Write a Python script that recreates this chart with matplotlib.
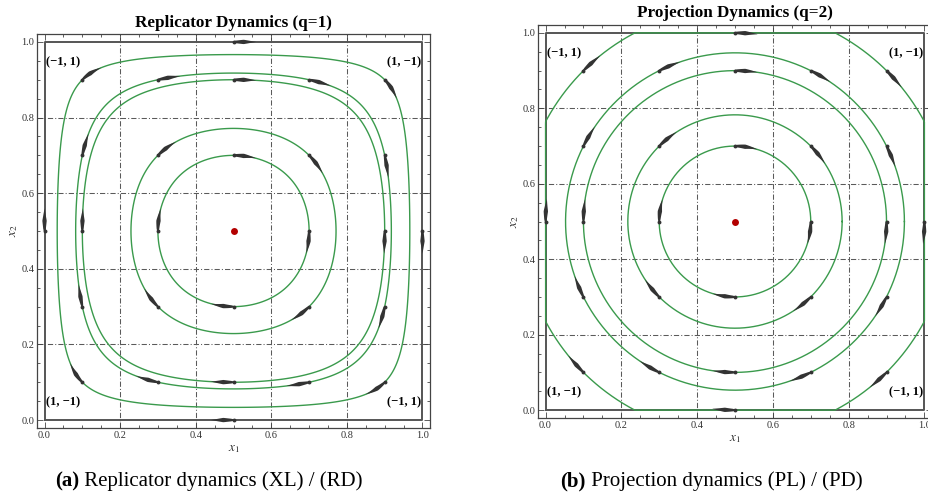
import numpy as np
import matplotlib
matplotlib.use("Agg")
import matplotlib.pyplot as plt
from matplotlib.ticker import MultipleLocator

plt.rcParams['font.family'] = ['Liberation Serif', 'DejaVu Serif']
plt.rcParams['mathtext.fontset'] = 'stix'

# stream seed points
seed_x = [0.1, 0.3, 0.5, 0.7, 0.9]
seed_y = [0.1, 0.3, 0.5, 0.7, 0.9]
edge_seeds = [(0.5, 1.0), (0.5, 0.0), (0.0, 0.5), (1.0, 0.5)]
equilibrium = (0.5, 0.5)

titles = ["Replicator Dynamics (q=1)", "Projection Dynamics (q=2)"]
captions = [("(a)", " Replicator dynamics (XL) / (RD)"),
            ("(b)", " Projection dynamics (PL) / (PD)")]
# top-left, top-right, bottom-left, bottom-right
corner_text = ["(\u22121, 1)", "(1, \u22121)", "(1, \u22121)", "(\u22121, 1)"]
ticks = [0.0, 0.2, 0.4, 0.6, 0.8, 1.0]

GREEN = '#3a9a4c'
DARK = '#333333'


def rd_field(x, y):
    return x * (1 - x) * (2 * y - 1), -y * (1 - y) * (2 * x - 1)


def pd_field(x, y):
    u = 2 * y - 1
    v = -(2 * x - 1)
    if (x <= 0 and u < 0) or (x >= 1 and u > 0):
        u = 0.0
    if (y <= 0 and v < 0) or (y >= 1 and v > 0):
        v = 0.0
    return u, v


def draw_arrow(ax, field, x0, y0, length=0.06, hw=0.0058):
    n = 30
    ds = length / n
    pts = [(x0, y0)]
    x, y = x0, y0
    for i in range(n):
        u, v = field(x, y)
        s = np.hypot(u, v)
        xm = min(max(x + 0.5 * u / s * ds, 0), 1)
        ym = min(max(y + 0.5 * v / s * ds, 0), 1)
        u, v = field(xm, ym)
        s = np.hypot(u, v)
        x = min(max(x + u / s * ds, 0), 1)
        y = min(max(y + v / s * ds, 0), 1)
        pts.append((x, y))
    pts = np.array(pts)
    d = np.gradient(pts, axis=0)
    d = d / np.hypot(d[:, 0], d[:, 1])[:, None]
    nrm = np.column_stack([-d[:, 1], d[:, 0]])
    s = np.linspace(0, 1, n + 1)
    w = hw * np.interp(s, [0, 0.1, 0.45, 1.0], [0.35, 0.6, 1.0, 0.0])
    left = pts + nrm * w[:, None]
    right = pts - nrm * w[:, None]
    poly = np.vstack([left, right[::-1]])
    ax.fill(poly[:, 0], poly[:, 1], color=DARK, lw=0, zorder=4)
    ax.plot(x0, y0, 'o', ms=2.8, color=DARK, mew=0, zorder=5)


def style_axes(ax, title, pad):
    ax.set_xlim(-0.02, 1.02)
    ax.set_ylim(-0.021, 1.021)
    ax.set_xticks(ticks)
    ax.set_yticks(ticks)
    ax.set_xticklabels(["%.1f" % t for t in ticks])
    ax.set_yticklabels(["%.1f" % t for t in ticks])
    ax.xaxis.set_minor_locator(MultipleLocator(0.05))
    ax.yaxis.set_minor_locator(MultipleLocator(0.05))
    ax.tick_params(which='both', direction='in', top=True, right=True,
                   color='#444444', width=0.6, labelsize=7.5, labelcolor='#333333', pad=2)
    ax.tick_params(which='major', length=4)
    ax.tick_params(which='minor', length=2)
    for sp in ax.spines.values():
        sp.set_color('#444444')
        sp.set_linewidth(0.9)
    for g in [0.2, 0.4, 0.6, 0.8]:
        ax.axvline(g, color='#5a5a5a', lw=0.75, ls=(0, (5, 2, 1, 2)), zorder=1)
        ax.axhline(g, color='#5a5a5a', lw=0.75, ls=(0, (5, 2, 1, 2)), zorder=1)
    # boundary of the square
    ax.plot([0, 1, 1, 0, 0], [0, 0, 1, 1, 0], color='#555555', lw=1.4, zorder=2)
    ax.set_title(title, fontsize=12.3, fontweight='bold', pad=pad)
    ax.set_xlabel("$x_1$", fontsize=9.5, labelpad=2, color='#333333')
    ax.set_ylabel("$x_2$", fontsize=9.5, labelpad=1, color='#333333')
    kw = dict(fontsize=9, fontweight='bold', zorder=6)
    ax.text(0.005, 0.947, corner_text[0], ha='left', va='center', **kw)
    ax.text(0.997, 0.947, corner_text[1], ha='right', va='center', **kw)
    ax.text(0.005, 0.048, corner_text[2], ha='left', va='center', **kw)
    ax.text(0.997, 0.048, corner_text[3], ha='right', va='center', **kw)
    ax.plot(*equilibrium, 'o', ms=5, color='#b30000', mew=0, zorder=6)


seeds = [(a, b) for a in seed_x for b in seed_y if (a, b) != equilibrium]

fig = plt.figure(figsize=(9.29, 4.99), dpi=100)
ax1 = fig.add_axes([0.0398, 0.1423, 0.4231, 0.7896])
ax2 = fig.add_axes([0.5791, 0.1623, 0.4241, 0.7876])

# (a) replicator dynamics: orbits are level sets of x1(1-x1)x2(1-x2)
g = np.linspace(0, 1, 801)
X, Y = np.meshgrid(g, g)
H = X * (1 - X) * Y * (1 - Y)
levels = sorted(set(round(a * (1 - a) * b * (1 - b), 6) for a, b in seeds))
ax1.contour(X, Y, H, levels=levels, colors=GREEN, linewidths=1.0, zorder=3)
for a, b in seeds + edge_seeds:
    draw_arrow(ax1, rd_field, a, b)
style_axes(ax1, titles[0], 5)

# (b) projection dynamics: circles round the centre, clipped to the square
radii = sorted(set(round(np.hypot(a - 0.5, b - 0.5), 6) for a, b in seeds))
t = np.linspace(0, 2 * np.pi, 1000)
for r in radii:
    cx = np.clip(0.5 + r * np.cos(t), 0, 1)
    cy = np.clip(0.5 + r * np.sin(t), 0, 1)
    ax2.plot(cx, cy, color=GREEN, lw=1.0, zorder=3)
for a, b in seeds + edge_seeds:
    draw_arrow(ax2, pd_field, a, b)
style_axes(ax2, titles[1], 5.5)

# captions, bold label followed by plain text, centred as a whole
fig.canvas.draw()
renderer = fig.canvas.get_renderer()
for (lab, rest), cx in zip(captions, [0.225, 0.766]):
    t1 = fig.text(0, 0.036, lab, fontsize=15, fontweight='bold', va='center')
    t2 = fig.text(0, 0.036, rest, fontsize=15, va='center')
    w1 = t1.get_window_extent(renderer).width / fig.bbox.width
    w2 = t2.get_window_extent(renderer).width / fig.bbox.width
    x0 = cx - (w1 + w2) / 2
    t1.set_x(x0)
    t2.set_x(x0 + w1)

fig.savefig("out.png", dpi=100)
